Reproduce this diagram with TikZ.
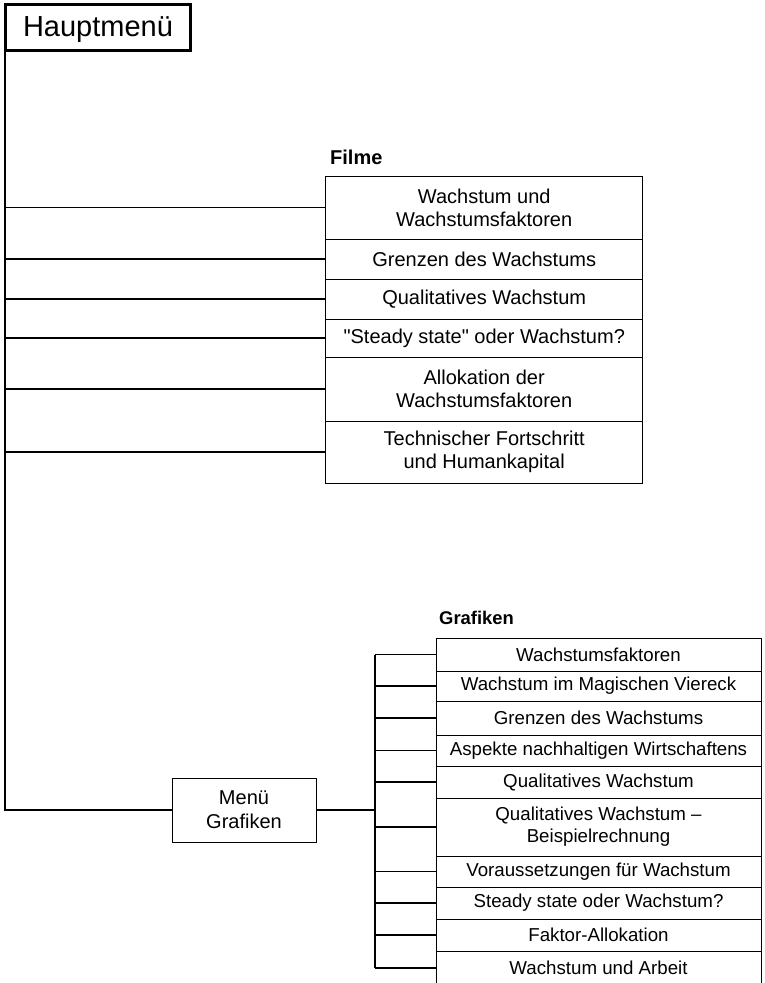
\documentclass[tikz,border=0pt]{standalone}
\usepackage{fontspec}
\setmainfont{Liberation Sans}[Ligatures=TeXOff]

\tikzset{
  menubox/.style={draw, line width=3pt, minimum width=185pt, minimum height=46pt, inner sep=0pt, text height=21pt, text depth=4pt, font=\fontsize{29}{33}\selectfont},
  filmbox/.style={draw, line width=1pt, minimum width=317pt, inner sep=0pt, align=center, font=\fontsize{20}{23}\selectfont},
  grafbox/.style={draw, line width=1pt, minimum width=325pt, inner sep=0pt, align=center, font=\fontsize{18.7}{22}\selectfont},
  headline/.style={anchor=west, inner sep=0pt, font=\bfseries\fontsize{#1}{22}\selectfont},
  conn/.style={line width=1.3pt}
}

\begin{document}
\begin{tikzpicture}[x=1pt, y=-1pt]
	\useasboundingbox (0,0) rectangle (764,983);
	\clip (0,0) rectangle (764,983);

	\node [menubox] (haupt) at (98,27.5) {Hauptmenü};

	% Filme
	\node [headline=20] (filme) at (330,157) {Filme};
	\node [filmbox, minimum height=63pt] (f1) at (484.2,207.5) {Wachstum und\\Wachstumsfaktoren};
	\node [filmbox, minimum height=40pt] (f2) at (484.2,259) {Grenzen des Wachstums};
	\node [filmbox, minimum height=40pt] (f3) at (484.2,299) {Qualitatives Wachstum};
	\node [filmbox, minimum height=38pt] (f4) at (484.2,338) {"Steady state" oder Wachstum?};
	\node [filmbox, minimum height=64pt] (f5) at (484.2,389) {Allokation der\\Wachstumsfaktoren};
	\node [filmbox, minimum height=62pt] (f6) at (484.2,452) {Technischer Fortschritt\\und Humankapital};

	% Grafiken
	\node [draw, line width=1pt, minimum width=144pt, minimum height=64pt, align=center, font=\fontsize{20}{24}\selectfont] (mgraf) at (244,810) {Menü\\Grafiken};
	\node [headline=18.4] (grafiken) at (439,618) {Grafiken};
	\node [grafbox, minimum height=33pt] (g1) at (598.5,654.5) {Wachstumsfaktoren};
	\node [grafbox, minimum height=30pt] (g2) at (598.5,686) {Wachstum im Magischen Viereck};
	\node [grafbox, minimum height=34pt] (g3) at (598.5,718) {Grenzen des Wachstums};
	\node [grafbox, minimum height=31pt] (g4) at (598.5,750.5) {Aspekte nachhaltigen Wirtschaftens};
	\node [grafbox, minimum height=32pt] (g5) at (598.5,782) {Qualitatives Wachstum};
	\node [grafbox, minimum height=58pt] (g6) at (598.5,827) {Qualitatives Wachstum –\\Beispielrechnung};
	\node [grafbox, minimum height=31pt] (g7) at (598.5,871.5) {Voraussetzungen für Wachstum};
	\node [grafbox, minimum height=32pt] (g8) at (598.5,903) {Steady state oder Wachstum?};
	\node [grafbox, minimum height=32pt] (g9) at (598.5,935) {Faktor-Allokation};
	\node [grafbox, minimum height=34pt] (g10) at (598.5,968) {Wachstum und Arbeit};

	\coordinate (trunk) at (5,0);
	\coordinate (bus) at (375,0);

	\draw [conn] (haupt.south -| trunk) |- (mgraf.west);
	\foreach \i in {1,...,6}
		\draw [conn] (trunk |- f\i.west) -- (f\i.west);

	\draw [conn] (mgraf.east) -- (bus |- mgraf.east);
	\draw [conn] (bus |- g1.west) -- (bus |- g10.west);
	\foreach \i in {1,...,10}
		\draw [conn] (bus |- g\i.west) -- (g\i.west);
\end{tikzpicture}
\end{document}
